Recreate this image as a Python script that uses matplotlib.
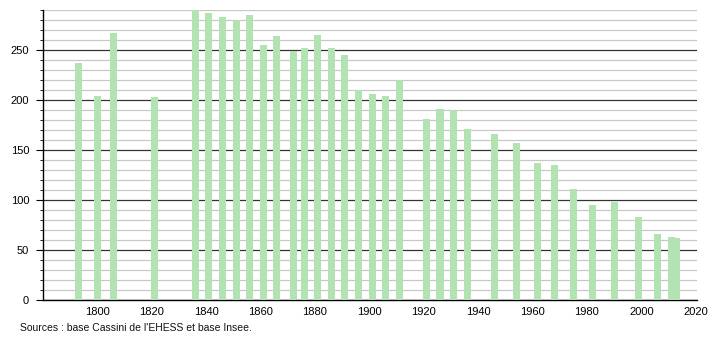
import matplotlib
matplotlib.use("Agg")
import matplotlib.pyplot as plt
from matplotlib.ticker import MultipleLocator

years = [1793, 1800, 1806, 1821, 1836, 1841, 1846, 1851, 1856, 1861, 1866,
         1872, 1876, 1881, 1886, 1891, 1896, 1901, 1906, 1911, 1921, 1926,
         1931, 1936, 1946, 1954, 1962, 1968, 1975, 1982, 1990, 1999, 2006,
         2011, 2013]
population = [237, 204, 267, 203, 290, 287, 283, 280, 285, 255, 264,
              249, 252, 265, 252, 245, 210, 206, 204, 220, 181, 191,
              190, 171, 166, 157, 137, 135, 111, 95, 98, 83, 66,
              63, 62]
x_ticks = [1800, 1820, 1840, 1860, 1880, 1900, 1920, 1940, 1960, 1980, 2000, 2020]
y_ticks = [0, 50, 100, 150, 200, 250]

plt.rcParams['font.family'] = ['Liberation Sans', 'DejaVu Sans']

fig = plt.figure(figsize=(7.1, 3.4), dpi=100)
ax = fig.add_axes([43 / 710, 40 / 340, 654 / 710, 290 / 340])

ax.bar(years, population, width=2.6, color="#b3e3b3", zorder=3)

ax.set_xlim(1780, 2020.5)
ax.set_ylim(0, 290)
ax.set_xticks(x_ticks)
ax.set_yticks(y_ticks)
ax.yaxis.set_minor_locator(MultipleLocator(10))

ax.grid(axis="y", which="major", color="#333333", linewidth=0.9, zorder=1)
ax.grid(axis="y", which="minor", color="#c8c8c8", linewidth=0.9, zorder=0)

for side in ["top", "right"]:
    ax.spines[side].set_visible(False)
ax.spines["left"].set_linewidth(1.0)
ax.spines["bottom"].set_linewidth(1.0)

ax.tick_params(axis="x", length=0, labelsize=8, pad=5)
ax.tick_params(axis="y", which="major", length=5, labelsize=8, pad=5)
ax.tick_params(axis="y", which="minor", length=2.5)

fig.text(20 / 710, 1 - 328 / 340, "Sources : base Cassini de l'EHESS et base Insee.",
         fontsize=7.5, va="center", ha="left", color="#111111")

fig.savefig("out.png", dpi=100)
